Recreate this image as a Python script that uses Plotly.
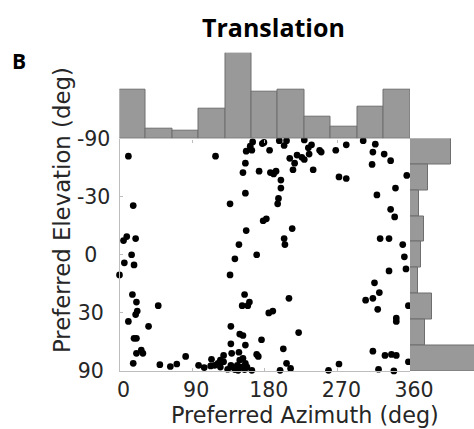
import numpy as np
import plotly.graph_objects as go

# ---------------- data ----------------
azimuth = [11, 119, 165, 162, 157, 164, 156, 153, 173, 156, 17, 137, 157, 148, 9, 5, 20, 15, 143, 170,
           6, 18, 0, 137, 16, 21, 22, 20, 11, 48, 36, 155, 161, 152, 159, 138, 149, 153, 18, 21,
           138, 156, 27, 21, 29, 139, 148, 170, 176, 17, 50, 63, 71, 82, 98, 105, 114, 113, 118, 122,
           125, 129, 129, 134, 138, 141, 143, 146, 149, 151, 153, 156, 158, 155, 164, 125, 147, 199, 207, 212,
           259, 272, 321, 340, 358, 177, 179, 186, 198, 207, 204, 229, 238, 234, 235, 248, 250, 268, 281, 302,
           317, 314, 328, 336, 313, 356, 211, 220, 217, 226, 229, 215, 240, 187, 191, 194, 200, 200, 197, 196,
           272, 281, 342, 319, 336, 341, 178, 182, 214, 204, 205, 323, 334, 351, 353, 355, 334, 316, 322, 305,
           314, 320, 358, 210, 185, 190, 343, 343, 222, 172, 203, 314, 329, 337, 343]
elevation = [-58, -58, -76, -69, -63, -64, -52, -45, -46, -32, -25, -26, -12, -5, -9, -7, -8, 0, 2, 0,
             4, 5, 10, 10, 20, 24, 29, 31, 35, 26, 38, 20, 24, 26, 26, 38, 43, 44, 46, 46,
             50, 51, 55, 58, 58, 58, 57, 59, 47, 69, 71, 74, 70, 61, 72, 76, 64, 73, 72, 69,
             75, 60, 67, 80, 72, 75, 81, 72, 65, 75, 63, 69, 75, 81, 84, 65, 84, 84, 69, 78,
             84, 70, 80, 88, 67, -73, -75, -64, -79, -79, -70, -81, -71, -67, -60, -64, -62, -64, -71, -79,
             -72, -62, -60, -54, -51, -43, -56, -59, -52, -57, -55, -47, -47, -45, -44, -46, -40, -35, -29, -26,
             -42, -41, -35, -31, -23, -19, -17, -18, -13, -8, -5, -8, -8, -5, 1, 7, 8, 14, 19, 23,
             22, 28, 26, 22, 30, 29, 33, 35, 42, 61, 54, 56, 60, 59, 60]

# histogram counts (marginals)
azimuth_counts = [20, 4, 3, 12, 35, 19, 20, 9, 5, 13, 20]          # 11 bins over 0..360 deg
elevation_counts = [32, 14, 7, 11, 9, 6, 17, 12, 52]               # 9 equal-area bins, -90..90 deg

x_tickvals = [0, 90, 180, 270, 360]
x_ticktext = ["0", "90", "180", "270", "360"]
y_tick_deg = [-90, -30, 0, 30, 90]
y_ticktext = ["-90", "-30", "0\u00a0\u00a0", "30\u00a0", "90\u00a0"]

title_text = "Translation"
panel_label = "B"
x_title = "Preferred Azimuth (deg)"
y_title = "Preferred Elevation (deg)"

# ---------------- layout geometry ----------------
W, H = 474, 429
def px_x(p):
    return p / W
def px_y(p):
    return 1 - p / H

x_dom = [px_x(119.5), px_x(410)]
y_dom = [px_y(371), px_y(138.5)]
top_dom = [px_y(138.5), px_y(52.7)]
right_dom = [px_x(410), 1.0]

# equal-area elevation transform
el_sin = np.sin(np.radians(elevation))
y_tickvals = np.sin(np.radians(y_tick_deg))

az_edges = np.linspace(0, 360, len(azimuth_counts) + 1)
az_centers = (az_edges[:-1] + az_edges[1:]) / 2
el_edges = np.linspace(-1, 1, len(elevation_counts) + 1)
el_centers = (el_edges[:-1] + el_edges[1:]) / 2

bar_fill = "#999999"
bar_edge = "#6e6e6e"
text_col = "#262626"
axis_col = "#bdbdbd"
font_fam = "DejaVu Sans"

fig = go.Figure()

fig.add_trace(go.Bar(
    x=az_centers, y=azimuth_counts, width=360 / len(azimuth_counts),
    marker=dict(color=bar_fill, line=dict(color=bar_edge, width=1)),
    xaxis="x2", yaxis="y2", showlegend=False, hoverinfo="skip"))

fig.add_trace(go.Bar(
    y=el_centers, x=elevation_counts, width=2 / len(elevation_counts), orientation="h",
    marker=dict(color=bar_fill, line=dict(color=bar_edge, width=1)),
    xaxis="x3", yaxis="y3", showlegend=False, hoverinfo="skip"))

fig.add_trace(go.Scatter(
    x=azimuth, y=el_sin, mode="markers",
    marker=dict(color="black", size=6.7, line=dict(width=0)),
    cliponaxis=False, showlegend=False))

fig.update_layout(
    width=W, height=H, autosize=False,
    margin=dict(l=0, r=0, t=0, b=0, pad=0, autoexpand=False),
    paper_bgcolor="white", plot_bgcolor="white",
    bargap=0, showlegend=False,
    xaxis=dict(domain=x_dom, range=[0, 360], anchor="y", automargin=False,
               tickvals=x_tickvals, ticktext=x_ticktext,
               ticks="inside", ticklen=3, tickcolor=axis_col, tickwidth=1,
               showline=True, linecolor=axis_col, linewidth=1,
               showgrid=False, zeroline=False,
               tickfont=dict(family=font_fam, size=20.5, color=text_col),
               ticklabelshift=4, ticklabelstandoff=0),
    yaxis=dict(domain=y_dom, range=[1, -1], anchor="x", automargin=False,
               tickvals=y_tickvals, ticktext=y_ticktext,
               ticks="inside", ticklen=3, tickcolor=axis_col, tickwidth=1,
               showline=True, linecolor=axis_col, linewidth=1,
               showgrid=False, zeroline=False,
               tickfont=dict(family=font_fam, size=20.5, color=text_col),
               ticklabelstandoff=4),
    xaxis2=dict(domain=x_dom, range=[0, 360], anchor="y2", automargin=False,
                tickvals=x_tickvals, ticks="outside", ticklen=3,
                tickcolor=axis_col, showticklabels=False,
                showline=False, showgrid=False, zeroline=False),
    yaxis2=dict(domain=top_dom, range=[0, 35], anchor="x2", visible=False, automargin=False),
    xaxis3=dict(domain=right_dom, range=[0, 50.4], anchor="y3", visible=False, automargin=False),
    yaxis3=dict(domain=y_dom, range=[1, -1], anchor="x3", visible=False, automargin=False),
    annotations=[
        dict(text=title_text, x=px_x(273), y=px_y(27), xref="paper", yref="paper",
             xanchor="center", yanchor="middle", showarrow=False,
             font=dict(family="Open Sans", size=25, color="black", weight="bold")),
        dict(text=panel_label, x=px_x(18.5), y=px_y(61.5), xref="paper", yref="paper",
             xanchor="center", yanchor="middle", showarrow=False,
             font=dict(family="Open Sans", size=21, color="black", weight="bold")),
        dict(text=x_title, x=px_x(305), y=0, xref="paper", yref="paper",
             xanchor="center", yanchor="bottom", showarrow=False, borderpad=0,
             font=dict(family=font_fam, size=22.3, color=text_col)),
        dict(text=y_title, x=px_x(62), y=px_y(210), xref="paper", yref="paper",
             xanchor="center", yanchor="middle", showarrow=False, textangle=-90,
             font=dict(family=font_fam, size=22.8, color=text_col)),
    ],
)

fig.write_html("out.html", config={"responsive": False, "displayModeBar": False})
